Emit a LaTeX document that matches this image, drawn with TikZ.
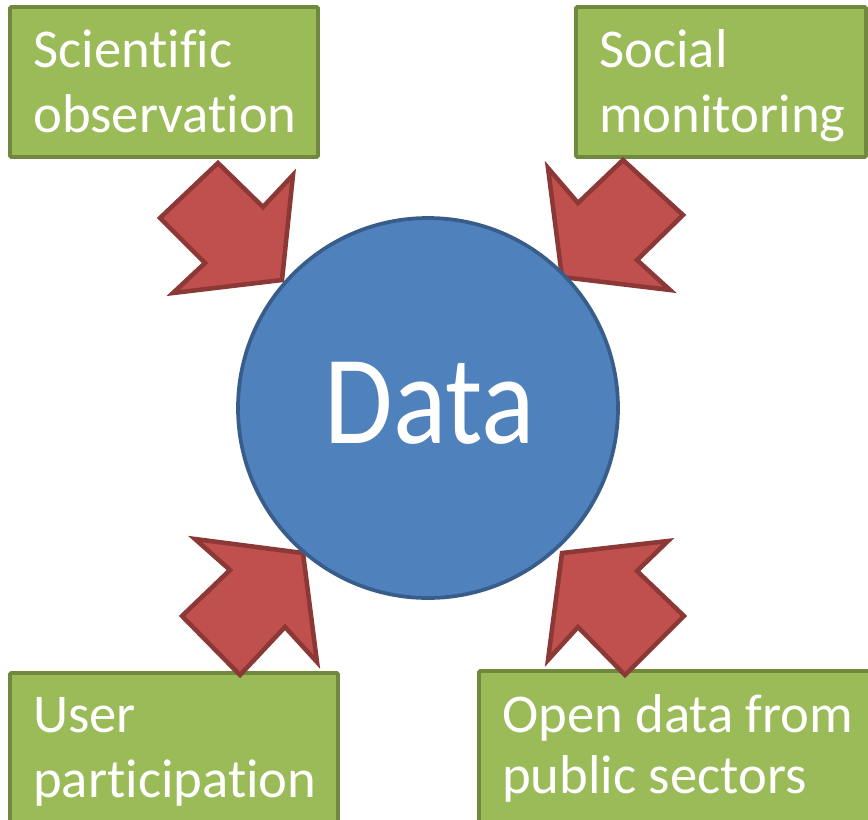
\documentclass[tikz,border=0pt]{standalone}
\usepackage{fontspec}
\usepackage{graphicx}
\setmainfont[Ligatures=NoCommon]{Carlito}
\definecolor{boxfill}{HTML}{9BBB59}
\definecolor{boxline}{HTML}{71893F}
\definecolor{arrfill}{HTML}{C0504D}
\definecolor{arrline}{HTML}{8C3836}
\definecolor{circfill}{HTML}{4F81BD}
\definecolor{circline}{HTML}{385D8A}
\tikzset{
  greenbox/.style={draw=boxline, fill=boxfill, line width=2.8pt, rounded corners=1pt},
  blockarrow/.style={draw=arrline, fill=arrfill, line width=3.4pt, line join=miter},
  boxtext/.style={anchor=base west, inner sep=0pt, text=white, font=\fontsize{41}{49}\selectfont},
  datacircle/.style={circle, draw=circline, fill=circfill, line width=2.8pt, minimum size=285pt, inner sep=0pt},
}
\begin{document}
\begin{tikzpicture}[x=0.75pt, y=-0.75pt]
\useasboundingbox (0,0) rectangle (868,819);
\clip (0,0) rectangle (868,819);
% boxes
\draw[greenbox] (10,7) rectangle (318,157);
\draw[greenbox] (576,7) rectangle (866,157);
\draw[greenbox] (10,673) rectangle (338,850);
\draw[greenbox] (479,671) rectangle (900,850);
% texts
\node[boxtext] (sci1) at (33,67) {Scientific};
\node[boxtext] (sci2) at (33,132) {observation};
\node[boxtext] (soc1) at (599,67) {Social};
\node[boxtext] (soc2) at (599,132) {monitoring};
\node[boxtext] (usr1) at (33,732) {User};
\node[boxtext] (usr2) at (33,797) {participation};
\node[boxtext] (opn1) at (502,732) {Open data from};
\node[boxtext] (opn2) at (502,793) {public sectors};
% arrows
\draw[blockarrow] (282,280) -- (293,175) -- (263,207) -- (218,163) -- (160,218) -- (205,263) -- (173,293) -- cycle;
\draw[blockarrow] (562,277) -- (548,168) -- (578,203) -- (623,160) -- (683,215) -- (637,260) -- (670,290) -- cycle;
\draw[blockarrow] (303,553) -- (195,539) -- (230,570) -- (182,616) -- (240,675) -- (285,627) -- (317,662) -- cycle;
\draw[blockarrow] (562,553) -- (668,541) -- (637,571) -- (684,616) -- (625,675) -- (578,627) -- (548,660) -- cycle;
% circle
\node[datacircle] (data) at (428,408) {};
\node[anchor=base, inner sep=0pt, text=white, font=\fontsize{95}{110}\selectfont] (datalabel) at (430,443) {\scalebox{0.88}[1]{Data}};
\end{tikzpicture}
\end{document}
